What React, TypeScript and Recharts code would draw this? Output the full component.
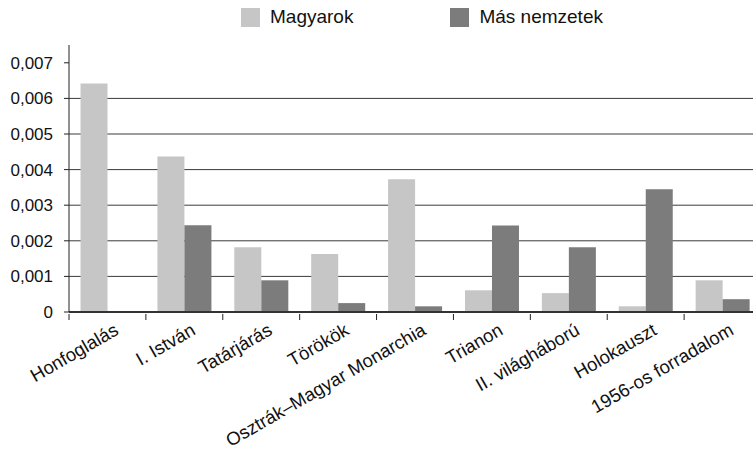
import { Bar, BarChart, CartesianGrid, XAxis, YAxis } from "recharts";

document.body.style.margin = "0";
document.body.style.overflow = "hidden";

const categories = [
  "Honfoglalás",
  "I. István",
  "Tatárjárás",
  "Törökök",
  "Osztrák–Magyar Monarchia",
  "Trianon",
  "II. világháború",
  "Holokauszt",
  "1956-os forradalom",
];
const magyarok = [0.00642, 0.00437, 0.00182, 0.00163, 0.00373, 0.00061, 0.00053, 0.00016, 0.00089];
const masNemzetek = [0, 0.00244, 0.00089, 0.00025, 0.00016, 0.00243, 0.00182, 0.00345, 0.00036];
const yTicks = [0, 0.001, 0.002, 0.003, 0.004, 0.005, 0.006, 0.007];
const gridValues = [0.001, 0.002, 0.003, 0.004, 0.005, 0.006];

const series = [
  { key: "magyarok", name: "Magyarok", color: "#c6c6c6" },
  { key: "mas", name: "Más nemzetek", color: "#7c7c7c" },
];

const data = categories.map((name, i) => ({
  name,
  magyarok: magyarok[i],
  mas: masNemzetek[i],
}));

const FONT = "'Liberation Sans', Arial, sans-serif";

function CategoryTick(props: any) {
  const { x, y, payload, index } = props;
  const half = payload.offset ?? 0;
  const axisY = y - 6;
  const last = index === categories.length - 1;
  return (
    <g>
      <line x1={x - half} x2={x - half} y1={axisY} y2={axisY + 6} stroke="#222" />
      {last && <line x1={x + half} x2={x + half} y1={axisY} y2={axisY + 6} stroke="#222" />}
      <text
        transform={`translate(${x + 9},${axisY + 14}) rotate(-30)`}
        textAnchor="end"
        dy="0.35em"
        fontSize={18.5}
        fontFamily={FONT}
        fill="#111"
      >
        {payload.value}
      </text>
    </g>
  );
}

// legend sits on top of the svg so it doesn't push the plot down
function ChartLegend() {
  return (
    <div
      style={{
        position: "absolute",
        top: 6,
        left: 241,
        display: "flex",
        gap: 97,
        fontFamily: FONT,
        fontSize: 19,
        color: "#111",
      }}
    >
      {series.map((s) => (
        <div key={s.key} style={{ display: "flex", alignItems: "center" }}>
          <span style={{ width: 19, height: 19, background: s.color, marginRight: 10 }} />
          <span>{s.name}</span>
        </div>
      ))}
    </div>
  );
}

export default function App() {
  return (
    <div style={{ position: "relative", width: 761, height: 454, background: "#fff" }}>
      <BarChart
        width={761}
        height={454}
        data={data}
        margin={{ top: 45, right: 0, bottom: 0, left: 8 }}
        barCategoryGap="15%"
        barGap={0}
      >
        <CartesianGrid
          vertical={false}
          horizontalValues={gridValues}
          stroke="#3a3a3a"
          strokeWidth={1}
        />
        <XAxis
          dataKey="name"
          interval={0}
          height={142}
          axisLine={{ stroke: "#333", strokeWidth: 2 }}
          tickLine={false}
          tickSize={6}
          tick={<CategoryTick />}
        />
        <YAxis
          width={61}
          domain={[0, 0.0075]}
          ticks={yTicks}
          interval={0}
          axisLine={{ stroke: "#222" }}
          tickLine={{ stroke: "#222" }}
          tickSize={5}
          tickMargin={11}
          tickFormatter={(v: number) => String(v).replace(".", ",")}
          tick={{ fill: "#111", fontSize: 17, fontFamily: FONT }}
        />
        {series.map((s) => (
          <Bar
            key={s.key}
            dataKey={s.key}
            name={s.name}
            fill={s.color}
            isAnimationActive={false}
          />
        ))}
      </BarChart>
      <ChartLegend />
    </div>
  );
}
